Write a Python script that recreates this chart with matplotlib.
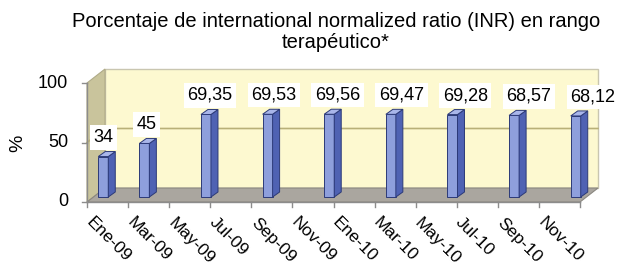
import matplotlib
matplotlib.use("Agg")
import matplotlib.pyplot as plt
from matplotlib.patches import Polygon, Rectangle

plt.rcParams['font.family'] = ['Liberation Sans', 'DejaVu Sans']

# data
tick_labels = ['Ene-09', 'Mar-09', 'May-09', 'Jul-09', 'Sep-09', 'Nov-09',
               'Ene-10', 'Mar-10', 'May-10', 'Jul-10', 'Sep-10', 'Nov-10']
mes_idx = [0, 2, 5, 8, 11, 14, 17, 20, 23]   # months since Ene-09
valores = [34, 45, 69.35, 69.53, 69.56, 69.47, 69.28, 68.57, 68.12]
etiquetas = ['34', '45', '69,35', '69,53', '69,56', '69,47', '69,28', '68,57', '68,12']

W, H, DPI = 630, 267, 100
fig = plt.figure(figsize=(W / DPI, H / DPI), dpi=DPI)

# front plane of the 3D box, in pixels
x0, x1, yb, yt = 87, 580, 202, 83
ax = fig.add_axes([x0 / W, 1 - yb / H, (x1 - x0) / W, (yb - yt) / H])
nmes = 2 * len(tick_labels)
ax.set_xlim(0, nmes)
ax.set_ylim(0, 100)
ax.axis('off')

px_x = nmes / (x1 - x0)      # data units per pixel
px_y = 100 / (yb - yt)

# depth of the box, of the bars' position and of the bars themselves
DX, DY = 18 * px_x, 14 * px_y
BX, BY = 6 * px_x, 5 * px_y
SX, SY = 7 * px_x, 5 * px_y
bw = 10 * px_x

wall = '#fdf9d0'
side = '#c9c49c'
floor = '#aaa69f'
grid = '#b8b078'

def poly(pts, **kw):
    ax.add_patch(Polygon(pts, closed=True, clip_on=False, **kw))

# back wall, side wall, floor
poly([(DX, DY), (nmes + DX, DY), (nmes + DX, 100 + DY), (DX, 100 + DY)],
     fc=wall, ec='#c9c6b0', lw=1, zorder=0)
poly([(0, 0), (0, 100), (DX, 100 + DY), (DX, DY)], fc=side, ec='#b0ab88', lw=0.8, zorder=1)
poly([(0, 0), (nmes, 0), (nmes + DX, DY), (DX, DY)], fc=floor, ec='#8a8780', lw=0.8, zorder=1)

# gridline at 50
ax.plot([0, DX, nmes + DX], [50, 50 + DY, 50 + DY], color=grid, lw=1.2,
        clip_on=False, zorder=1)

# front axes lines and ticks
ax.plot([0, 0], [0, 100], color='#8c8c8c', lw=1, clip_on=False, zorder=2)
ax.plot([0, nmes], [0, 0], color='#8c8c8c', lw=1, clip_on=False, zorder=2)
for v in [0, 50, 100]:
    ax.plot([-5 * px_x, 0], [v, v], color='#8c8c8c', lw=1, clip_on=False, zorder=2)
    ax.text(-19 * px_x, v, str(v), ha='right', va='center', fontsize=13)
for i in range(nmes // 2 + 1):
    ax.plot([2 * i, 2 * i], [0, -5 * px_y], color='#8c8c8c', lw=1, clip_on=False, zorder=2)
for i, lab in enumerate(tick_labels):
    ax.text(2 * i + 7 * px_x, -13 * px_y, lab, rotation=-45, rotation_mode='anchor',
            ha='left', va='top', fontsize=12.5)

# bars
for m, v, lab in zip(mes_idx, valores, etiquetas):
    xc = m + 0.5 + BX
    xa, xb = xc - bw / 2, xc + bw / 2
    ax.add_patch(Rectangle((xa, BY), bw, v, fc='#8e9fdc', ec='#2c3a78', lw=0.7,
                           clip_on=False, zorder=3))
    poly([(xb, BY), (xb, BY + v), (xb + SX, BY + v + SY), (xb + SX, BY + SY)],
         fc='#4f62b3', ec='#2c3a78', lw=0.7, zorder=3)
    poly([(xa, BY + v), (xb, BY + v), (xb + SX, BY + v + SY), (xa + SX, BY + v + SY)],
         fc='#a9b6ea', ec='#2c3a78', lw=0.7, zorder=3)
    ax.text(xc * 1.035, BY + v + 19 * px_y, lab, ha='center', va='center', fontsize=13,
            zorder=4, bbox=dict(boxstyle='square,pad=0.2', fc='white', ec='none'))

fig.text(18 / W, 1 - 143 / H, '%', rotation=90, ha='center', va='center', fontsize=14)
fig.text(336 / W, 1 - 32 / H,
         'Porcentaje de international normalized ratio (INR) en rango\nterapéutico*',
         ha='center', va='center', fontsize=14.5, linespacing=1.15)

fig.savefig('out.png', dpi=DPI)
